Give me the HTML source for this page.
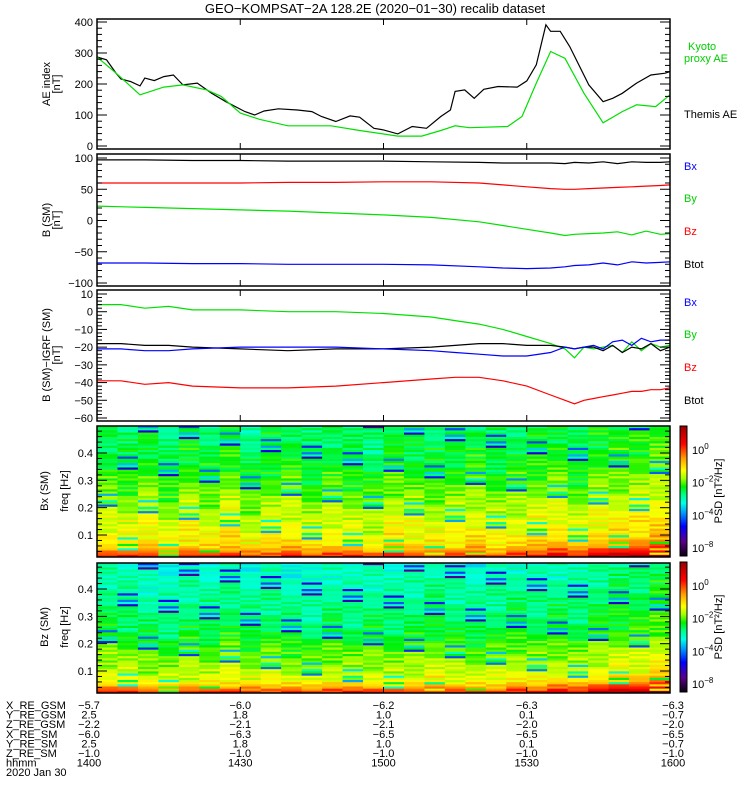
<!DOCTYPE html>
<html><head><meta charset="utf-8"><style>
html,body{margin:0;padding:0;background:#fff;}
svg{display:block;font-family:"Liberation Sans",sans-serif;}
text{font-size:11px;fill:#000;}
</style></head><body>
<svg id="chart" width="750" height="800" viewBox="0 0 750 800">
<text x="375" y="13" text-anchor="middle" style="font-size:13px">GEO−KOMPSAT−2A 128.2E (2020−01−30) recalib dataset</text>
</svg>
<script>
// ---------- data ----------
const aeThemisT=[0,2,4,5,7,9,10,12,14,16,18,21,24,27,31,33,35,38,42,45,47,50,53,55,58,60,63,66,69,72,74,75,77,79,81,84,88,90,92,94,95,97,99,103,106,108,110,113,116,119,120];
const aeThemisV=[287,278,235,216,208,194,219,211,224,229,197,203,170,143,111,100,113,120,116,111,95,79,97,93,57,52,39,63,57,95,116,176,181,154,183,192,190,210,262,391,370,370,321,197,143,154,170,203,229,235,240];
const aeKyotoT=[0,4,9,14,18,23,26,30,34,40,49,55,63,68,72,75,78,86,89,92,95,98,102,106,110,113,117,120];
const aeKyotoV=[287,235,165,190,197,181,160,106,86,65,65,50,32,32,50,65,59,63,95,203,305,283,170,75,111,133,127,165];
const bT=[0,10,20,30,40,50,60,70,80,85,90,95,98,100,103,106,109,112,115,118,120];
const bTot=[97,97,96,96,95,95,95,94,93,92,92,92,91,93,92,94,91,94,93,93,94];
const bRed=[60,60,60,60,61,61,62,62,60,57,54,51,50,50,51,52,53,54,55,56,57];
const bGreen=[23,21,19,17,15,12,9,5,-2,-8,-14,-20,-24,-22,-21,-20,-18,-23,-17,-22,-21];
const bBlue=[-68,-68,-69,-69,-70,-70,-70,-71,-74,-76,-77,-76,-74,-72,-71,-68,-71,-66,-68,-67,-66];
const dT=[0,5,10,15,20,30,40,50,60,70,75,80,85,90,95,98,100,102,104,106,108,110,112,114,116,118,120];
const dGreen=[4,4,2,3,1,1,0,0,-1,-3,-5,-7,-10,-14,-18,-21,-26,-20,-21,-20,-19,-23,-17,-22,-18,-20,-19];
const dBlack=[-18,-18,-19,-19,-20,-21,-22,-21,-21,-20,-19,-18,-18,-19,-19,-20,-21,-20,-20,-22,-19,-23,-20,-21,-18,-22,-20];
const dBlue=[-21,-21,-22,-22,-21,-20,-20,-20,-21,-22,-23,-24,-25,-25,-23,-20,-21,-20,-19,-21,-17,-16,-19,-15,-17,-16,-16];
const dRed=[-39,-39,-41,-40,-42,-43,-43,-42,-40,-38,-37,-37,-39,-42,-47,-50,-52,-50,-49,-48,-47,-46,-45,-45,-44,-44,-43];
// spectrogram: log10 PSD, rows from high freq (0.5 Hz) to low freq
const rows4=[-2.6,-2.5,-2.6,-2.4,-2.5,-2.5,-2.4,-2.6,-2.4,-2.5,-2.3,-2.4,-2.5,-2.3,-2.4,-2.3,-2.4,-2.2,-2.3,-2.3,-2.2,-2.1,-2.2,-2.0,-2.1,-2.0,-2.1,-1.9,-2.0,-1.9,-1.8,-1.9,-1.7,-1.8,-1.7,-1.6,-1.7,-1.6,-1.5,-1.6,-1.5,-1.4,-1.5,-1.3,-1.4,-1.3,-1.4,-1.2,-1.3,-1.2,-1.1,-1.2,-1.0,-1.1,-0.9,-0.8,-0.6,-0.4,-0.1,0.2];
const rows5=[-3.0,-3.1,-2.9,-3.0,-3.0,-2.9,-3.0,-2.9,-2.8,-2.9,-2.8,-2.9,-2.8,-2.8,-2.7,-2.8,-2.7,-2.7,-2.8,-2.6,-2.7,-2.6,-2.7,-2.6,-2.5,-2.6,-2.5,-2.6,-2.5,-2.4,-2.5,-2.4,-2.3,-2.4,-2.2,-2.3,-2.1,-2.0,-2.1,-1.9,-2.0,-1.8,-1.9,-1.8,-1.7,-1.8,-1.6,-1.7,-1.6,-1.5,-1.6,-1.4,-1.3,-1.4,-1.2,-1.0,-0.8,-0.5,-0.2,0.2];
const cols4=[0.0,-0.1,0.1,-0.2,0.1,-0.1,0.2,-0.2,0.0,0.1,-0.2,0.0,-0.1,-0.2,0.1,0.0,-0.1,0.0,0.1,-0.1,0.0,0.1,0.2,-0.1,0.2,0.2,0.3,0.4];
const cols5=[0.1,0.0,-0.1,-0.2,0.0,-0.1,0.1,-0.1,0.0,-0.1,-0.2,0.0,-0.1,0.0,-0.1,0.0,0.1,0.0,-0.1,0.0,0.1,0.0,0.1,0.0,0.2,0.3,0.3,0.5];
const lowBoost=[0,0,0.1,0,0,0,0,0,0,0,0,0,0,0,0,0,0,0,0,0,0,0.1,0.3,0.2,0.5,0.6,0.8,0.9];
const texture=[0.3,-0.2,0.1,-0.4,0.5,0.0,-0.1,-2.2,0.2,-0.3,0.4,-0.1,0.1,-0.5,0.3,0.0,-0.2,0.2,-0.4,0.1,0.4,-0.3,-1.6,0.0,0.2,-0.1,0.3,-0.4,0.1,0.5,-0.2,0.0,-3.0,0.2,-0.3,0.1,-0.1];
const xTicks=[0,30,60,90,120];
const ephLabels=["X_RE_GSM","Y_RE_GSM","Z_RE_GSM","X_RE_SM","Y_RE_SM","Z_RE_SM","hhmm"];
const ephVals=[["−5.7","−6.0","−6.2","−6.3","−6.3"],["2.5","1.8","1.0","0.1","−0.7"],["−2.2","−2.1","−2.1","−2.0","−2.0"],["−6.0","−6.3","−6.5","−6.5","−6.5"],["2.5","1.8","1.0","0.1","−0.7"],["−1.0","−1.0","−1.0","−1.0","−1.0"],["1400","1430","1500","1530","1600"]];

// ---------- helpers ----------
const svg=document.getElementById('chart');
const NS='http://www.w3.org/2000/svg';
const X0=97,X1=670;
const xs=t=>X0+t/120*(X1-X0);
function mk(tag,attrs,parent){const e=document.createElementNS(NS,tag);for(const k in attrs)e.setAttribute(k,attrs[k]);(parent||svg).appendChild(e);return e;}
function txt(x,y,s,attrs){const e=mk('text',Object.assign({x:x,y:y},attrs||{}));e.textContent=s;return e;}
const panels=[
 {name:'ae',top:19,bot:149,ys:v=>146-v*124/400,min:0,max:400,major:100,minor:20},
 {name:'b-sm',top:154,bot:286,ys:v=>220.5-v*0.625,min:-100,max:100,major:50,minor:10},
 {name:'b-igrf',top:290,bot:421,ys:v=>294+(10-v)*124/70,min:-60,max:10,major:10,minor:2},
 {name:'bx-spec',top:426,bot:557,ys:f=>535+(0.1-f)*273.3,min:0.1,max:0.4,major:0.1,minor:0.02},
 {name:'bz-spec',top:563,bot:693,ys:f=>671+(0.1-f)*273.3,min:0.1,max:0.4,major:0.1,minor:0.02}];

function colormap(v){
 const stops=[[-6.5,[0,0,0]],[-5.5,[90,0,140]],[-4.6,[0,0,255]],[-3.8,[0,150,255]],[-3.2,[0,255,230]],[-2.7,[0,255,140]],[-2.2,[0,240,0]],[-1.7,[160,255,0]],[-1.2,[255,255,0]],[-0.5,[255,160,0]],[0.4,[255,0,0]],[1.5,[150,0,0]]];
 if(v<=stops[0][0])return 'rgb(0,0,0)';
 for(let i=1;i<stops.length;i++){if(v<=stops[i][0]){const a=stops[i-1],b=stops[i],f=(v-a[0])/(b[0]-a[0]);return 'rgb('+a[1].map((c,j)=>Math.round(c+(b[1][j]-c)*f)).join(',')+')';}}
 return 'rgb(150,0,0)';
}

// ---------- spectrograms ----------
function spec(p,rows,cols,nm){
 const g=mk('g',{});
 
 
 const nr=rows.length,nc=cols.length,h=(p.bot-p.top)/nr,w=(X1-X0)/nc;
 for(let c=0;c<nc;c++)for(let r=0;r<nr;r++){
  let v=rows[r]+cols[c]+texture[(r*5+c*11)%texture.length]*0.8;
  if(r>=nr-10)v+=lowBoost[c]*(r-(nr-10))/9;
  const rc=mk('rect',{x:(X0+c*w).toFixed(2),y:(p.top+r*h).toFixed(2),width:(w+0.4).toFixed(2),height:(h+0.4).toFixed(2),fill:colormap(v)},g);
  
  
 }
}
spec(panels[3],rows4,cols4,'bx');
spec(panels[4],rows5,cols5,'bz');

// ---------- lines ----------
function line(p,T,V,color,nm){
 const pts=T.map((t,i)=>xs(t).toFixed(1)+','+p.ys(V[i]).toFixed(1)).join(' ');
 const e=mk('polyline',{points:pts,fill:'none',stroke:color,'stroke-width':1.2});
 
 
}
line(panels[0],aeThemisT,aeThemisV,'#000','themis-ae-line');
line(panels[0],aeKyotoT,aeKyotoV,'#00e000','kyoto-ae-line');
line(panels[1],bT,bTot,'#000','b-btot-line');
line(panels[1],bT,bRed,'#f00','b-red-line');
line(panels[1],bT,bGreen,'#00e000','b-green-line');
line(panels[1],bT,bBlue,'#00f','b-blue-line');
line(panels[2],dT,dGreen,'#00e000','db-green-line');
line(panels[2],dT,dBlack,'#000','db-black-line');
line(panels[2],dT,dBlue,'#00f','db-blue-line');
line(panels[2],dT,dRed,'#f00','db-red-line');

// ---------- axes ----------
panels.forEach(p=>{
 const f=mk('rect',{x:X0,y:p.top,width:X1-X0,height:p.bot-p.top,fill:'none',stroke:'#000','stroke-width':1.5});
 
 
 xTicks.forEach(t=>{
  mk('line',{x1:xs(t),x2:xs(t),y1:p.bot,y2:p.bot-6,stroke:'#000'});
  mk('line',{x1:xs(t),x2:xs(t),y1:p.top,y2:p.top+6,stroke:'#000'});
 });
 const nmin=Math.round(p.min/p.minor),nmax=Math.round(p.max/p.minor);
 const lo=p.name.indexOf('spec')>0?1:nmin, hi=p.name.indexOf('spec')>0?24:nmax;
 for(let k=lo;k<=hi;k++){
  const v=k*p.minor,y=p.ys(v);
  if(y<p.top||y>p.bot)continue;
  const isMaj=Math.abs(v/p.major-Math.round(v/p.major))<1e-6;
  const L=isMaj?10:5;
  mk('line',{x1:X0,x2:X0+L,y1:y,y2:y,stroke:'#000'});
  mk('line',{x1:X1,x2:X1-L,y1:y,y2:y,stroke:'#000'});
  if(isMaj){const s=(p.name.indexOf('spec')>0?v.toFixed(1):String(Math.round(v))).replace('-','−');
   const t=txt(X0-4,y+4,s,{'text-anchor':'end'});
   
   }
 }
});

// ---------- colorbars ----------
[[426,556,'bx'],[562,692,'bz']].forEach(([t,b,nm])=>{
 const g=mk('g',{});
 
 
 const y0=t+24; // 10^0 position
 for(let y=t;y<b;y++){const v=(y0-y)/16.5;mk('rect',{x:680,y:y,width:7,height:1.2,fill:colormap(v)},g);}
 mk('rect',{x:680,y:t,width:7,height:b-t,fill:'none',stroke:'#000'},g);
 [['0',0],['−2',1],['−4',2],['−8',3]].forEach(([e,i])=>{
  const tx=txt(692,y0+4+i*32.7,'10',{'font-size':'11'},g);
  const ts=mk('tspan',{dy:-5,style:'font-size:8px'},tx);ts.textContent=e;
  
  
 });
 const l=txt(0,0,'PSD [nT²/Hz]',{transform:'translate(722,'+((t+b)/2)+') rotate(-90)','text-anchor':'middle'});
 
 
});

// ---------- y-axis titles ----------
[['AE index','[nT]',84,'ae'],['B (SM)','[nT]',220,'b-sm'],['B (SM)−IGRF (SM)','[nT]',355,'b-igrf'],['Bx (SM)','freq [Hz]',491,'bx-spec'],['Bz (SM)','freq [Hz]',627,'bz-spec']].forEach(([a,b,y,nm],i)=>{
 const x1=i>=3?48:50,x2=i>=3?68:60;
 const t1=txt(0,0,a,{transform:'translate('+x1+','+y+') rotate(-90)','text-anchor':'middle'});
 
 
 const t2=txt(0,0,b,{transform:'translate('+x2+','+y+') rotate(-90)','text-anchor':'middle'});
 
 
});

// ---------- legends ----------
[['Kyoto',50,'#00d000'],['proxy AE',62,'#00d000'],['Themis AE',118,'#000'],
 ['Bx',170,'#00f'],['By',202,'#00d000'],['Bz',235,'#f00'],['Btot',268,'#000'],
 ['Bx',306,'#00f'],['By',338,'#00d000'],['Bz',371,'#f00'],['Btot',404,'#000']].forEach(([s,y,c])=>{
 const t=txt(i=s==='Kyoto'?688:684,y,s,{style:'fill:'+c});
 
 
});

// ---------- ephemeris table ----------
ephLabels.forEach((l,r)=>{
 const y=709+r*9.6;
 const t=txt(6,y,l,{});
 
 
 ephVals[r].forEach((v,c)=>{
  const tv=txt(xs(xTicks[c])+(c===0?-8:c===4?3:0),y,v,{'text-anchor':'middle'});
  
  
 });
});
const dt=txt(6,776,'2020 Jan 30',{});


</script>
</body></html>
